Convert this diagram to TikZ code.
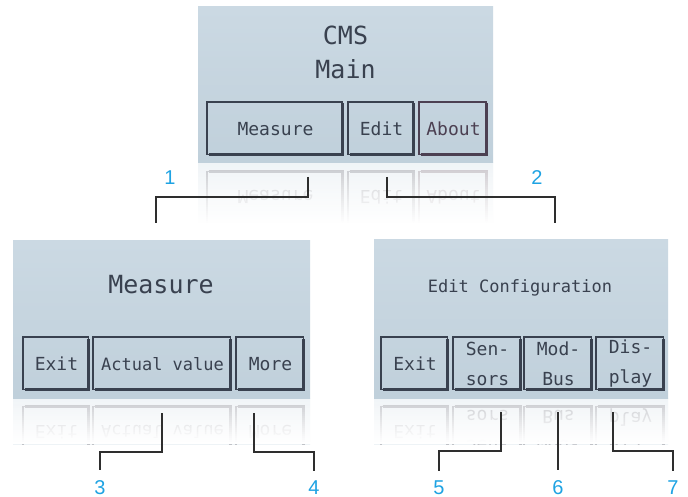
\documentclass[tikz,border=0pt]{standalone}
\usepackage{fontspec}
\setmainfont{Liberation Sans}
\newfontfamily\lcdfont{DejaVu Sans Mono}
\definecolor{lcdtop}{HTML}{CBD9E3}
\definecolor{lcdbot}{HTML}{C0D0DB}
\definecolor{lcdink}{HTML}{39414F}
\definecolor{aboutink}{HTML}{4C4052}
\definecolor{callout}{HTML}{1EA3E3}
\definecolor{leader}{HTML}{2E2E2E}
\newif\iflcdtitles \lcdtitlestrue
\tikzset{
  lcdtitle/.style={font=\lcdfont\fontsize{25}{27}\selectfont, text=lcdink, inner sep=0pt},
  lcdsub/.style={font=\lcdfont\fontsize{17}{19}\selectfont, text=lcdink, inner sep=0pt},
  lcdbtntext/.style={font=\lcdfont\fontsize{18}{30}\selectfont, text=lcdink, inner sep=0pt, align=center},
  btnframe/.style={draw=lcdink, line width=1.3pt},
  btnshade/.style={draw=lcdink, line width=2.6pt},
  leaderline/.style={draw=leader, line width=1.3pt},
  calloutnum/.style={font=\fontsize{20}{22}\selectfont, text=callout, inner sep=0pt, anchor=base},
}
% button: name, x1, y1, x2, y2, text
\newcommand\lcdbutton[6]{%
  \draw[btnframe] (#2,#3) rectangle ({#4-1.5},{#5-1.5});
  \draw[btnshade] ({#2+1.5},{#5-1.3}) -- ({#4-1.3},{#5-1.3}) -- ({#4-1.3},{#3+1.5});
  \node[lcdbtntext] (#1) at ({(#2+#4)/2},{(#3+#5)/2}) {#6};
}
\newcommand\topscreen[1]{%
  \shade[top color=lcdtop, bottom color=lcdbot] (198,7) rectangle (493,163);
  \iflcdtitles
  \node[lcdtitle] (#1cms) at (345.5,35) {CMS};
  \node[lcdtitle] (#1main) at (345.5,69) {Main};
  \fi
  \lcdbutton{#1measure}{207}{102}{344}{156}{Measure}
  \lcdbutton{#1edit}{348}{102}{415}{156}{Edit}
  \begingroup\colorlet{lcdink}{aboutink}%
  \lcdbutton{#1about}{419}{102}{488}{156}{About}\endgroup
}
\newcommand\measurescreen[1]{%
  \shade[top color=lcdtop, bottom color=lcdbot] (13,241) rectangle (310,398);
  \iflcdtitles
  \node[lcdtitle] (#1mtitle) at (161,285) {Measure};
  \fi
  \lcdbutton{#1mexit}{23}{337}{90}{391}{Exit}
  \lcdbutton{#1mactual}{93}{337}{232}{391}{\fontsize{17}{30}\selectfont Actual value}
  \lcdbutton{#1mmore}{236}{337}{305}{391}{More}
}
\newcommand\editscreen[1]{%
  \shade[top color=lcdtop, bottom color=lcdbot] (374,240) rectangle (668,398);
  \iflcdtitles
  \node[lcdsub] (#1etitle) at (520,288) {Edit Configuration};
  \fi
  \lcdbutton{#1eexit}{381}{337}{449}{391}{Exit}
  \lcdbutton{#1esensors}{453}{337}{522}{391}{Sen-\\sors}
  \lcdbutton{#1emodbus}{524}{337}{593}{391}{Mod-\\Bus}
  \lcdbutton{#1edisplay}{596}{337}{665}{391}{Dis-\\play}
}
\newcommand\reflcolors{%
  \lcdtitlesfalse
  \colorlet{lcdtop}{lcdtop!30!white}\colorlet{lcdbot}{lcdbot!30!white}%
  \colorlet{lcdink}{lcdink!32!white}\colorlet{aboutink}{aboutink!32!white}%
}
% white strips of rising opacity: x1, x2, ytop, number of 2px strips
\newcommand\fadeout[4]{%
  \foreach \i in {1,...,#4}{%
    \pgfmathsetmacro\fadeop{min(1,(\i/#4)^0.8)}%
    \pgfmathsetmacro\fadeya{#3+2*(\i-1)}%
    \pgfmathsetmacro\fadeyb{#3+2*\i+0.2}%
    \fill[white, fill opacity=\fadeop] (#1,\fadeya) rectangle (#2,\fadeyb);
  }%
}
\begin{document}
\begin{tikzpicture}[x=1pt,y=-1pt]
\useasboundingbox (0,0) rectangle (688,497);
\fill[white] (0,0) rectangle (688,497);

% reflections
\begin{scope}
  \reflcolors
  \clip (198,163) rectangle (493,225);
  \begin{scope}[shift={(0,326)}, yscale=-1, transform shape]
    \topscreen{r}
  \end{scope}
\end{scope}
\fadeout{195}{496}{163}{31}
\begin{scope}
  \reflcolors
  \clip (13,398) rectangle (310,444);
  \begin{scope}[shift={(0,796)}, yscale=-1, transform shape]
    \measurescreen{r}
  \end{scope}
\end{scope}
\begin{scope}
  \reflcolors
  \clip (374,398) rectangle (668,444);
  \begin{scope}[shift={(0,796)}, yscale=-1, transform shape]
    \editscreen{r}
  \end{scope}
\end{scope}
\fadeout{10}{672}{398}{23}

% screens
\topscreen{}
\measurescreen{}
\editscreen{}

% leader start / end points
\coordinate (s1) at (308,177);
\coordinate (e1) at (156,223);
\coordinate (s2) at (387,177);
\coordinate (e2) at (555,223);
\coordinate (s3) at (162,413);
\coordinate (s4) at (254,413);
\coordinate (s5) at (501,412);
\coordinate (s6) at (558,412);
\coordinate (s7) at (613,412);

% callout numbers
\node[calloutnum] (n1) at (170,185) {1};
\node[calloutnum] (n2) at (537,185) {2};
\node[calloutnum] (n3) at (100,494) {3};
\node[calloutnum] (n4) at (314,494) {4};
\node[calloutnum] (n5) at (439,494) {5};
\node[calloutnum] (n6) at (558,494) {6};
\node[calloutnum] (n7) at (673,494) {7};

% leaders
\draw[leaderline] (s1) -- ++(0,20) -| (e1);
\draw[leaderline] (s2) -- ++(0,20) -| (e2);
\draw[leaderline] (s3) -- ++(0,39) -| ([yshift=9.5pt]n3.north);
\draw[leaderline] (s4) -- ++(0,39) -| ([yshift=9.5pt]n4.north);
\draw[leaderline] (s5) -- ++(0,39) -| ([yshift=9.5pt]n5.north);
\draw[leaderline] (s6) -- ([yshift=9.5pt]n6.north);
\draw[leaderline] (s7) -- ++(0,39) -| ([yshift=9.5pt]n7.north);
\end{tikzpicture}
\end{document}
